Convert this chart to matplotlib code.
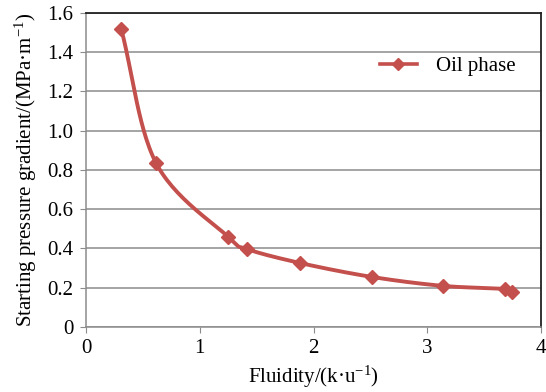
import numpy as np
import matplotlib
matplotlib.use("Agg")
import matplotlib.pyplot as plt
from matplotlib.ticker import FuncFormatter

# data
fluidity = [0.31, 0.615, 1.25, 1.415, 1.88, 2.51, 3.14, 3.68, 3.74]
gradient = [1.518, 0.836, 0.459, 0.397, 0.326, 0.255, 0.209, 0.194, 0.178]

plt.rcParams['font.family'] = ['Liberation Serif', 'DejaVu Serif']
plt.rcParams['mathtext.fontset'] = 'custom'
plt.rcParams['mathtext.rm'] = 'Liberation Serif'
plt.rcParams['mathtext.it'] = 'Liberation Serif:italic'
plt.rcParams['mathtext.bf'] = 'Liberation Serif:bold'


def catmull_rom(x, y, n=30):
    # Excel-like smoothed line through the points
    x = np.asarray(x, float)
    y = np.asarray(y, float)
    px = np.concatenate([[2 * x[0] - x[1]], x, [2 * x[-1] - x[-2]]])
    py = np.concatenate([[2 * y[0] - y[1]], y, [2 * y[-1] - y[-2]]])
    xs, ys = [], []
    t = np.linspace(0, 1, n)
    for i in range(1, len(px) - 2):
        for p, out in ((px, xs), (py, ys)):
            p0, p1, p2, p3 = p[i - 1], p[i], p[i + 1], p[i + 2]
            out.extend(0.5 * (2 * p1 + (-p0 + p2) * t
                              + (2 * p0 - 5 * p1 + 4 * p2 - p3) * t ** 2
                              + (-p0 + 3 * p1 - 3 * p2 + p3) * t ** 3))
    return np.array(xs), np.array(ys)


red = '#C4504D'
fig = plt.figure(figsize=(5.46, 3.92), dpi=100)
ax = fig.add_axes([0.1575, 0.166, 0.8335, 0.801])

sx, sy = catmull_rom(fluidity, gradient)
ax.plot(sx, sy, color=red, lw=2.8, solid_capstyle='round', zorder=3)
ax.plot(fluidity, gradient, ls='none', marker='D', ms=7, color=red, zorder=4)
ax.plot([], [], color=red, lw=2.6, marker='D', ms=6, label='Oil phase')

ax.set_xlim(0, 4)
ax.set_ylim(0, 1.6)
ax.set_xticks([0, 1, 2, 3, 4])
ax.set_yticks(np.arange(0, 1.61, 0.2))
ax.yaxis.set_major_formatter(FuncFormatter(lambda v, p: '0' if v == 0 else f'{v:.1f}'))
ax.grid(axis='y', color='#8c8c8c', lw=1.1)
ax.set_axisbelow(True)

for s in ['left', 'bottom']:
    ax.spines[s].set_color('#8c8c8c')
    ax.spines[s].set_linewidth(1.1)
for s in ['top', 'right']:
    ax.spines[s].set_color('#222222')
    ax.spines[s].set_linewidth(1.3)
ax.tick_params(direction='out', length=4, color='#8c8c8c', labelsize=15, pad=5)

ax.set_xlabel('Fluidity/(k·u$^{-1}$)', fontsize=15, labelpad=4)
ax.set_ylabel('Starting pressure gradient/(MPa·m$^{-1}$)', fontsize=15, labelpad=6)

ax.legend(loc='upper right', bbox_to_anchor=(0.985, 0.92), frameon=False,
          fontsize=15, handlelength=1.8, handletextpad=0.9)

fig.savefig('out.png', dpi=100)
